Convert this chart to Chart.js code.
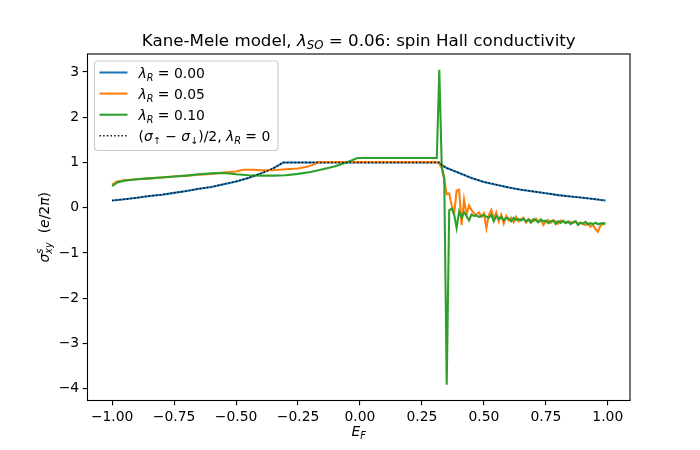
<!DOCTYPE html>
<html>
<head>
<meta charset="utf-8">
<script src="https://cdn.jsdelivr.net/npm/chart.js@4.4.0/dist/chart.umd.min.js"></script>
<style>
  html, body { margin: 0; padding: 0; background: #fff; }
</style>
</head>
<body>
<canvas id="c" width="700" height="450"></canvas>
<script>
// tick positions
const xTicks = [-1.0, -0.75, -0.5, -0.25, 0.0, 0.25, 0.5, 0.75, 1.0];
const yTicks = [-4, -3, -2, -1, 0, 1, 2, 3];

// lambda_R = 0 (also the dotted (s_up - s_dn)/2 curve)
const efBlue = [-1.00, -0.95, -0.90, -0.85, -0.80, -0.75, -0.70, -0.65, -0.60, -0.55, -0.50, -0.45, -0.40, -0.35, -0.31,
  0.32, 0.33, 0.35, 0.40, 0.45, 0.50, 0.55, 0.60, 0.65, 0.70, 0.75, 0.80, 0.85, 0.90, 0.95, 0.99];
const sigBlue = [0.16, 0.19, 0.22, 0.26, 0.29, 0.33, 0.37, 0.42, 0.46, 0.52, 0.58, 0.66, 0.76, 0.87, 1.00,
  1.00, 0.94, 0.88, 0.77, 0.66, 0.57, 0.51, 0.45, 0.40, 0.36, 0.32, 0.28, 0.25, 0.22, 0.19, 0.16];

// E_F values of the noisy part above the gap (0.32 .. 0.99)
const efTail = [0.32, 0.33, 0.34, 0.35, 0.36, 0.37, 0.38, 0.39, 0.40, 0.41,
  0.42, 0.43, 0.44, 0.45, 0.46, 0.47, 0.48, 0.49, 0.50, 0.51,
  0.52, 0.53, 0.54, 0.55, 0.56, 0.57, 0.58, 0.59, 0.60, 0.61,
  0.62, 0.63, 0.64, 0.65, 0.66, 0.67, 0.68, 0.69, 0.70, 0.71,
  0.72, 0.73, 0.74, 0.75, 0.76, 0.77, 0.78, 0.79, 0.80, 0.81,
  0.82, 0.83, 0.84, 0.85, 0.86, 0.87, 0.88, 0.89, 0.90, 0.91,
  0.92, 0.93, 0.94, 0.95, 0.96, 0.97, 0.98, 0.99];

// lambda_R = 0.05
const efOrangeHead = [-1.00, -0.98, -0.95, -0.90, -0.85, -0.80, -0.75, -0.70, -0.65, -0.60, -0.55, -0.50, -0.47, -0.43,
  -0.40, -0.35, -0.30, -0.25, -0.21, -0.18, -0.17, 0.31];
const sigOrangeHead = [0.51, 0.58, 0.61, 0.63, 0.65, 0.67, 0.69, 0.71, 0.73, 0.75, 0.78, 0.80, 0.84, 0.84,
  0.83, 0.83, 0.85, 0.87, 0.91, 0.97, 1.01, 1.01];
const sigOrangeTail = [0.97, 0.88, 0.62, 0.30, 0.32, 0.05, -0.12, 0.38, 0.40, -0.38,
  0.18, -0.15, 0.05, -0.05, -0.12, -0.15, -0.10, -0.20, -0.12, -0.45,
  -0.15, -0.05, -0.25, -0.10, -0.30, -0.15, -0.35, -0.18, -0.28, -0.22,
  -0.32, -0.20, -0.30, -0.25, -0.22, -0.33, -0.25, -0.28, -0.30, -0.24,
  -0.30, -0.26, -0.38, -0.30, -0.27, -0.33, -0.28, -0.30, -0.35, -0.28,
  -0.30, -0.33, -0.30, -0.32, -0.34, -0.30, -0.35, -0.33, -0.36, -0.38,
  -0.34, -0.42, -0.38, -0.47, -0.53, -0.40, -0.36, -0.36];

// lambda_R = 0.10
const efGreenHead = [-1.00, -0.98, -0.95, -0.90, -0.85, -0.80, -0.75, -0.70, -0.65, -0.60, -0.55, -0.50, -0.45, -0.40,
  -0.35, -0.30, -0.25, -0.20, -0.15, -0.10, -0.05, -0.01, 0.31];
const sigGreenHead = [0.48, 0.56, 0.60, 0.63, 0.65, 0.67, 0.69, 0.71, 0.74, 0.76, 0.77, 0.74, 0.72, 0.71,
  0.71, 0.72, 0.75, 0.79, 0.85, 0.92, 1.01, 1.10, 1.10];
const sigGreenTail = [3.05, 0.90, 0.65, -3.91, -0.05, -0.02, -0.15, -0.45, -0.08, -0.22,
  -0.10, -0.18, -0.28, -0.15, -0.18, -0.17, -0.20, -0.18, -0.16, -0.20,
  -0.22, -0.15, -0.30, -0.18, -0.25, -0.20, -0.28, -0.22, -0.24, -0.30,
  -0.22, -0.27, -0.25, -0.28, -0.24, -0.30, -0.26, -0.33, -0.25, -0.28,
  -0.32, -0.26, -0.30, -0.28, -0.34, -0.30, -0.28, -0.36, -0.30, -0.33,
  -0.29, -0.34, -0.31, -0.36, -0.32, -0.30, -0.38, -0.33, -0.35, -0.31,
  -0.37, -0.34, -0.36, -0.33, -0.36, -0.35, -0.34, -0.35];

const FONT = '"DejaVu Sans"';
const FS = 13.9;
const LW = 2.08;     // 1.5 pt at 100 dpi
const AXW = 1.1;     // 0.8 pt
const TICK = 4.86;   // 3.5 pt

const pts = (xs, ys) => xs.map((x, i) => ({x: x, y: ys[i]}));

const series = [
  {color: '#1f77b4', data: pts(efBlue, sigBlue), order: 3, width: LW, dash: [],
    label: [['λ', 'i'], ['R', 'si'], [' = 0.00', 'n']]},
  {color: '#ff7f0e', data: pts(efOrangeHead.concat(efTail), sigOrangeHead.concat(sigOrangeTail)), order: 2, width: LW, dash: [],
    label: [['λ', 'i'], ['R', 'si'], [' = 0.05', 'n']]},
  {color: '#2ca02c', data: pts(efGreenHead.concat(efTail), sigGreenHead.concat(sigGreenTail)), order: 1, width: LW, dash: [],
    label: [['λ', 'i'], ['R', 'si'], [' = 0.10', 'n']]},
  {color: '#000000', data: pts(efBlue, sigBlue), order: 0, width: 1.39, dash: [1.39, 2.29],
    label: [['(', 'n'], ['σ', 'i'], ['↑', 'sn'], [' − ', 'n'], ['σ', 'i'], ['↓', 'sn'], [')/2, ', 'n'],
      ['λ', 'i'], ['R', 'si'], [' = 0', 'n']]}
];

// small mathtext-like renderer: n normal, i italic, s* subscript, p* superscript, trailing 0 = no advance
function drawMath(ctx, parts, x, y, size, align) {
  const items = parts.map(([t, k]) => {
    const small = k[0] === 's' || k[0] === 'p';
    const px = small ? size * 0.7 : size;
    ctx.font = (k.includes('i') ? 'italic ' : '') + px.toFixed(1) + 'px ' + FONT;
    const w = ctx.measureText(t).width;
    const dy = k[0] === 's' ? size * 0.22 : (k[0] === 'p' ? -size * 0.42 : 0);
    return {t: t, font: ctx.font, dy: dy, adv: k.endsWith('0') ? 0 : w};
  });
  const total = items.reduce((a, b) => a + b.adv, 0);
  let cx = align === 'center' ? x - total / 2 : x;
  ctx.textAlign = 'left';
  ctx.textBaseline = 'alphabetic';
  items.forEach(it => {
    ctx.font = it.font;
    ctx.fillText(it.t, cx, y + it.dy);
    cx += it.adv;
  });
}

const decorations = {
  id: 'decorations',
  afterDraw(chart) {
    const ctx = chart.ctx;
    const a = chart.chartArea;
    ctx.save();
    ctx.fillStyle = '#000';
    // frame
    ctx.strokeStyle = '#000';
    ctx.lineWidth = AXW;
    ctx.strokeRect(a.left, a.top, a.right - a.left, a.bottom - a.top);

    // title and axis labels
    drawMath(ctx, [['Kane-Mele model, ', 'n'], ['λ', 'i'], ['SO', 'si'], [' = 0.06: spin Hall conductivity', 'n']],
      (a.left + a.right) / 2, a.top - 8.5, 16.7, 'center');
    drawMath(ctx, [['E', 'i'], ['F', 'si']], (a.left + a.right) / 2, 436, FS, 'center');
    ctx.save();
    ctx.translate(49, (a.top + a.bottom) / 2);
    ctx.rotate(-Math.PI / 2);
    drawMath(ctx, [['σ', 'i'], ['s', 'pi0'], ['xy', 'si'], ['  (', 'n'], ['e', 'i'], ['/2', 'n'], ['π', 'i'], [')', 'n']],
      0, 0, FS, 'center');
    ctx.restore();

    // legend
    const lx = a.left + 7, ly = a.top + 7, lw = 183.5, lh = 89.5;
    ctx.beginPath();
    ctx.roundRect(lx, ly, lw, lh, 3);
    ctx.fillStyle = 'rgba(255,255,255,0.8)';
    ctx.fill();
    ctx.strokeStyle = '#cccccc';
    ctx.lineWidth = 1.1;
    ctx.stroke();
    series.forEach((s, i) => {
      const ry = ly + 11.5 + i * 21.1;
      ctx.beginPath();
      ctx.strokeStyle = s.color;
      ctx.lineWidth = s.width;
      ctx.setLineDash(s.dash);
      ctx.moveTo(lx + 5, ry);
      ctx.lineTo(lx + 33, ry);
      ctx.stroke();
      ctx.setLineDash([]);
      ctx.fillStyle = '#000';
      drawMath(ctx, s.label, lx + 44, ry + 5, FS, 'left');
    });
    ctx.restore();
  }
};

const minus = v => (v < 0 ? '−' : '') + Math.abs(v);

new Chart(document.getElementById('c'), {
  type: 'line',
  data: {
    datasets: series.map(s => ({
      data: s.data,
      borderColor: s.color,
      borderWidth: s.width,
      borderDash: s.dash,
      order: s.order,
      pointRadius: 0,
      tension: 0,
      fill: false
    }))
  },
  options: {
    responsive: false,
    devicePixelRatio: 1,
    animation: false,
    events: [],
    layout: {padding: {left: 0, right: 70, top: 54, bottom: 0}},
    plugins: {legend: {display: false}, title: {display: false}, tooltip: {enabled: false}},
    scales: {
      x: {
        type: 'linear',
        min: -1.0995,
        max: 1.0895,
        afterBuildTicks: s => { s.ticks = xTicks.map(v => ({value: v})); },
        afterFit: s => { s.height = 49.5; },
        grid: {drawOnChartArea: false, drawTicks: true, tickLength: TICK, color: '#000', lineWidth: AXW},
        border: {display: false},
        ticks: {
          autoSkip: false, maxRotation: 0, padding: 3.5, color: '#000',
          font: {family: FONT, size: FS},
          callback: v => (v < 0 ? '−' : '') + Math.abs(v).toFixed(2)
        }
      },
      y: {
        type: 'linear',
        min: -4.258,
        max: 3.398,
        afterBuildTicks: s => { s.ticks = yTicks.map(v => ({value: v})); },
        afterFit: s => { s.width = 87.5; },
        grid: {drawOnChartArea: false, drawTicks: true, tickLength: TICK, color: '#000', lineWidth: AXW},
        border: {display: false},
        ticks: {
          autoSkip: false, padding: 3.5, color: '#000',
          font: {family: FONT, size: FS},
          callback: minus
        }
      }
    }
  },
  plugins: [decorations]
});
</script>
</body>
</html>
